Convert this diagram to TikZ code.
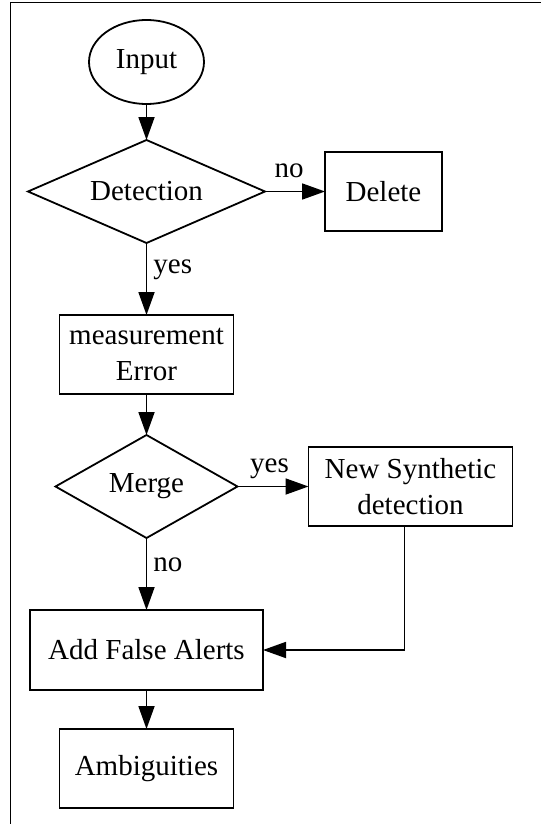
\documentclass[tikz,border=0pt]{standalone}
\usepackage{fontspec}
\setmainfont{Liberation Serif}
\usepackage{tikz}
\usetikzlibrary{arrows,arrows.meta,shapes.geometric,positioning}

\begin{document}
\begin{tikzpicture}
			[x=1pt, y=-1pt, font=\fontsize{29}{36}\selectfont, line width=1.8pt, >={Triangle[length=23pt,width=16pt]},
			terminal/.style	= {draw, ellipse, inner sep=0pt, outer sep=0pt, minimum width=115pt, minimum height=84pt},
			decision/.style	= {draw, diamond, aspect=2.3, inner sep=0pt, outer sep=0pt},
			block/.style	= {draw, rectangle, align=center, inner sep=0pt, outer sep=0pt, minimum height=79pt},
			answer/.style	= {inner sep=6pt, text depth=7pt}]

			\useasboundingbox (0,0) rectangle (541,824);
			\draw [line width=1.5pt] (10.5,824) -- (10.5,2.5) -- (541,2.5);

			\node [terminal]	at (146.5,62)									(input)		{Input};
			\node [decision, minimum width=237pt, minimum height=103pt]	[below = 36pt of input]	(detect)	{Detection};
			\node [block, minimum width=117pt]		[right = 60pt of detect]	(delete)	{Delete};
			\node [block, minimum width=174pt]		[below = 72pt of detect]	(measure)	{measurement\\Error};
			\node [decision, minimum width=182pt, minimum height=103pt]	[below = 41pt of measure]	(merge)	{Merge};
			\node [block, minimum width=204pt]		[right = 71pt of merge]		(synth)		{New Synthetic\\detection};
			\node [block, minimum width=233pt, minimum height=80pt]	[below = 72pt of merge]	(alerts)	{Add False Alerts};
			\node [block, minimum width=174pt]		[below = 39pt of alerts]	(ambig)		{Ambiguities};

			\draw [->] (input) -- (detect);
			\draw [->] (detect) -- node [answer, above, pos=0.4] {no} (delete);
			\draw [->] (detect) -- node [answer, right, pos=0.38] {yes} (measure);
			\draw [->] (measure) -- (merge);
			\draw [->] (merge) -- node [answer, above, pos=0.45] {yes} (synth);
			\draw [->] (merge) -- node [answer, right, pos=0.42] {no} (alerts);
			\draw [->] ([xshift=-6pt]synth.south) |- (alerts);
			\draw [->] (alerts) -- (ambig);
\end{tikzpicture}
\end{document}
